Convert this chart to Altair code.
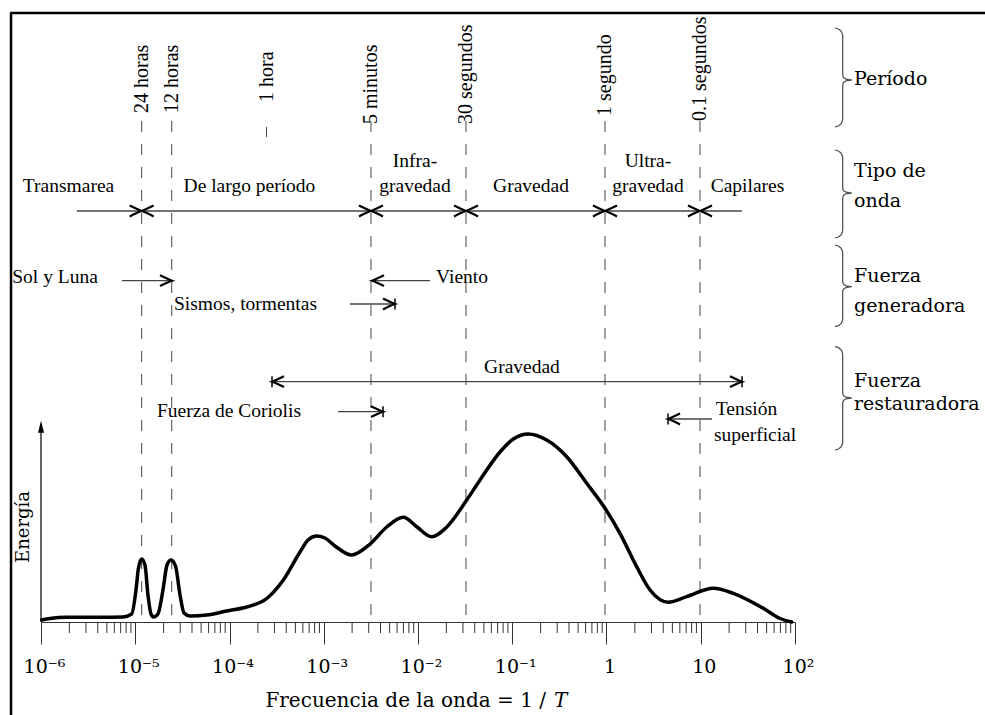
import altair as alt
import pandas as pd

# ---------------- data (x as log10 of frequency, y in chart "level" units) ----------------
# energy spectrum
curve_exp = [-5.993, -5.905, -5.727, -5.374, -5.13, -5.038, -4.992, -4.966, -4.932, -4.897,
             -4.865, -4.833, -4.806, -4.759, -4.706, -4.663, -4.621, -4.573, -4.525, -4.483,
             -4.419, -4.242, -4.030, -3.818, -3.605, -3.429, -3.252, -3.167, -3.075, -2.987,
             -2.881, -2.703, -2.509, -2.332, -2.156, -2.014, -1.855, -1.695, -1.483, -1.342,
             -1.130, -0.989, -0.830, -0.635, -0.422, -0.210, -0.016, 0.143, 0.320, 0.462,
             0.656, 0.851, 1.133, 1.345, 1.664, 1.841, 1.965]
curve_energy = [1.0, 1.75, 2.35, 2.35, 2.5, 4, 16, 27, 31.5, 28.5,
                13.5, 4, 2.5, 4, 16, 28.5, 31, 28, 13.5, 4.5,
                3, 3.5, 5.5, 7.5, 11.75, 21, 35, 41, 43, 42,
                38, 33.5, 39, 47.5, 52.35, 47.65, 42.65, 47.5, 61, 71,
                85, 91.5, 94, 91, 82.65, 69.35, 56.85, 44.35, 27.65, 16,
                9.85, 12.65, 16.85, 14.35, 6.85, 1.75, 0]

# x axis
tick_exps = [-6, -5, -4, -3, -2, -1, 0, 1, 2]
tick_labels = ["10⁻⁶", "10⁻⁵", "10⁻⁴", "10⁻³", "10⁻²", "10⁻¹", "1", "10", "10²"]
minor_mult = [2, 3, 4, 5, 6, 7, 8, 9]
minor_decades = [-6, -5, -4, -3, -2, -1, 0, 1]

# period markers
period_labels = ["24 horas", "12 horas", "1 hora", "5 minutos", "30 segundos", "1 segundo", "0.1 segundos"]
period_exp = [-4.932, -4.613, -3.607, -2.499, -1.491, -0.016, 0.992]
period_level = [254.5, 254.5, 260, 249, 249, 253, 250.5]
dashed_exp = [-4.932, -4.613, -2.499, -1.491, -0.016, 0.992]
dashed_top = 250.5
hora_dash = [247.5, 242.5]

# wave type boundaries
wave_line_exp = [-5.618, 1.438]
wave_line_level = 205.5
wave_bounds = [-4.932, -2.499, -1.491, -0.016, 0.992]

# inner labels
inner_labels = ["Transmarea", "De largo período", "Infra-", "gravedad", "Gravedad", "Ultra-",
                "gravedad", "Capilares", "Sol y Luna", "Viento", "Sismos, tormentas", "Gravedad",
                "Fuerza de Coriolis", "Tensión", "superficial"]
inner_exp = [-5.708, -3.788, -2.032, -2.032, -0.801, 0.44, 0.44, 1.496, -5.851, -1.533,
             -3.830, -0.897, -4.005, 1.485, 1.576]
inner_level = [215, 215, 227.5, 215, 215, 227.5, 215, 215, 169.5, 169.5, 156, 124.5, 102.5, 103.5, 90.5]

# arrows: start, end (log10 f), level, heads at start/end, bars at start/end
arrow_start = [-5.141, -1.873, -2.722, -3.549, -2.849, 1.119]
arrow_end = [-4.610, -2.488, -2.244, 1.438, -2.371, 0.653]
arrow_level = [170.65, 170.65, 159, 120.15, 105.15, 101.5]
arrow_head_start = [False, False, False, True, False, False]
arrow_bar_start = [False, False, False, True, False, False]
arrow_bar_end = [False, False, True, True, True, True]

# right-hand category labels and braces
right_labels = ["Período", "Tipo de", "onda", "Fuerza", "generadora", "Fuerza", "restauradora"]
right_level = [268.5, 222.5, 207.5, 170.15, 155.15, 117.65, 106]
right_exp = 2.626
brace_exp = 2.424
brace_top = [297, 236, 188.5, 137.65]
brace_mid = [271, 214.5, 167.65, 112]
brace_bot = [247.5, 192, 147.65, 86]

# ---------------- helpers ----------------
PX = 94.25  # pixels per decade (used only for brace glyph shape)
xscale = alt.Scale(type="log", domain=[1e-6, 1e2], nice=False)
yscale = alt.Scale(domain=[0, 305], nice=False, zero=False)

label_expr = ""
for e, l in zip(tick_exps, tick_labels):
    label_expr += f"round(log(datum.value)/LN10) == {e} ? '{l}' : "
label_expr += "''"

xaxis = alt.Axis(values=[10.0 ** e for e in tick_exps], labelExpr=label_expr, tickSize=22,
                 tickColor="#333", tickWidth=1, domainColor="#333", domainWidth=1,
                 labelFont="DejaVu Serif", labelFontSize=19, labelColor="black",
                 labelPadding=28, labelBaseline="alphabetic", labelFlush=False,
                 labelOverlap=False, labelBound=False, labelOffset=3, grid=False,
                 title=None, labelAngle=0)


def X(f):
    return alt.X(f, type="quantitative", scale=xscale, axis=xaxis)


def Y(f):
    return alt.Y(f, type="quantitative", scale=yscale, axis=None)


def F(e):
    return 10.0 ** e


layers = []

# frame
frame = pd.DataFrame({"x": [F(-6.33), F(-6.318)], "x2": [F(4.2), F(-6.318)],
                      "y": [304.5, 304.5], "y2": [304.5, -50]})
layers.append(alt.Chart(frame).mark_rule(color="black", strokeWidth=2.5).encode(
    x=X("x"), x2="x2", y=Y("y"), y2="y2"))

# minor ticks
mt = pd.DataFrame({"x": [m * 10.0 ** d for d in minor_decades for m in minor_mult]})
mt["y"] = 0
mt["y2"] = -5.5
layers.append(alt.Chart(mt).mark_rule(color="#333", strokeWidth=1).encode(
    x=X("x"), y=Y("y"), y2="y2"))

# dashed period lines
dl = pd.DataFrame({"x": [F(e) for e in dashed_exp], "y": dashed_top, "y2": 0})
layers.append(alt.Chart(dl).mark_rule(color="#444", strokeWidth=1, strokeDash=[11, 12]).encode(
    x=X("x"), y=Y("y"), y2="y2"))
hd = pd.DataFrame({"x": [F(period_exp[2])], "y": [hora_dash[0]], "y2": [hora_dash[1]]})
layers.append(alt.Chart(hd).mark_rule(color="#444", strokeWidth=1).encode(
    x=X("x"), y=Y("y"), y2="y2"))

# period labels (rotated)
pl = pd.DataFrame({"x": [F(e) for e in period_exp], "y": period_level, "t": period_labels})
layers.append(alt.Chart(pl).mark_text(font="Liberation Serif", fontSize=20, angle=270,
                                      align="left", baseline="middle", color="black").encode(
    x=X("x"), y=Y("y"), text="t:N"))

# arrow lines
lines = pd.DataFrame({"x": [F(wave_line_exp[0])] + [F(e) for e in arrow_start],
                      "x2": [F(wave_line_exp[1])] + [F(e) for e in arrow_end],
                      "y": [wave_line_level] + arrow_level})
layers.append(alt.Chart(lines).mark_rule(color="#444", strokeWidth=1.3).encode(
    x=X("x"), x2="x2", y=Y("y")))

# arrowheads
right_x, right_y, left_x, left_y = [], [], [], []
for b in wave_bounds:
    right_x.append(F(b)); right_y.append(wave_line_level)
    left_x.append(F(b)); left_y.append(wave_line_level)
for s, e, lv, hs in zip(arrow_start, arrow_end, arrow_level, arrow_head_start):
    if e > s:
        right_x.append(F(e)); right_y.append(lv)
        if hs:
            left_x.append(F(s)); left_y.append(lv)
    else:
        left_x.append(F(e)); left_y.append(lv)
        if hs:
            right_x.append(F(s)); right_y.append(lv)
head_r = "M -1 -0.45 Q -0.35 -0.12 0 0 Q -0.35 0.12 -1 0.45"
head_l = "M 1 -0.45 Q 0.35 -0.12 0 0 Q 0.35 0.12 1 0.45"
layers.append(alt.Chart(pd.DataFrame({"x": right_x, "y": right_y})).mark_point(
    shape=head_r, size=576, filled=False, color="black", strokeWidth=2.2, opacity=1).encode(
    x=X("x"), y=Y("y")))
layers.append(alt.Chart(pd.DataFrame({"x": left_x, "y": left_y})).mark_point(
    shape=head_l, size=576, filled=False, color="black", strokeWidth=2.2, opacity=1).encode(
    x=X("x"), y=Y("y")))

# end bars
bx, by = [], []
for s, e, lv, bs, be in zip(arrow_start, arrow_end, arrow_level, arrow_bar_start, arrow_bar_end):
    if bs:
        bx.append(F(s)); by.append(lv)
    if be:
        bx.append(F(e)); by.append(lv)
bars = pd.DataFrame({"x": bx, "y": [v + 2.75 for v in by], "y2": [v - 2.75 for v in by]})
layers.append(alt.Chart(bars).mark_rule(color="black", strokeWidth=1.5).encode(
    x=X("x"), y=Y("y"), y2="y2"))

# inner labels
il = pd.DataFrame({"x": [F(e) for e in inner_exp], "y": inner_level, "t": inner_labels})
layers.append(alt.Chart(il).mark_text(font="Liberation Serif", fontSize=19.5, align="center",
                                      baseline="alphabetic", color="black").encode(
    x=X("x"), y=Y("y"), text="t:N"))

# right labels
rl = pd.DataFrame({"x": F(right_exp), "y": right_level, "t": right_labels})
layers.append(alt.Chart(rl).mark_text(font="DejaVu Serif", fontSize=19, align="left",
                                      baseline="alphabetic", color="black").encode(
    x=X("x"), y=Y("y"), text="t:N"))

# braces (glyph shape offsets in px)
shape_top = [(0, 0), (3.5, 1), (6, 3), (7.3, 5.5), (7.7, 8)]
shape_mid = [(7.7, -5), (8.5, -2.5), (11, -0.8), (16.7, 0)]
rows = []
for k, (t, m, b) in enumerate(zip(brace_top, brace_mid, brace_bot)):
    pts = []
    for dx, dy in shape_top:
        pts.append((dx, t - dy / 2))
    for dx, dy in shape_mid:
        pts.append((dx, m - dy / 2))
    for dx, dy in reversed(shape_mid[:-1]):
        pts.append((dx, m + dy / 2))
    for dx, dy in reversed(shape_top):
        pts.append((dx, b + dy / 2))
    for i, (dx, lv) in enumerate(pts):
        rows.append({"b": k, "i": i, "x": F(brace_exp + dx / PX), "y": lv})
br = pd.DataFrame(rows)
layers.append(alt.Chart(br).mark_line(color="#555", strokeWidth=1.3).encode(
    x=X("x"), y=Y("y"), detail="b:N", order="i:Q"))

# y arrow
ya = pd.DataFrame({"x": [F(-6)], "y": [0], "y2": [97.5]})
layers.append(alt.Chart(ya).mark_rule(color="black", strokeWidth=1.2).encode(
    x=X("x"), y=Y("y"), y2="y2"))
layers.append(alt.Chart(pd.DataFrame({"x": [F(-6)], "y": [97.65]})).mark_point(
    shape="M 0 -1 L 0.5 1 L -0.5 1 Z", size=144, filled=True, color="black", opacity=1).encode(
    x=X("x"), y=Y("y")))

# y label
layers.append(alt.Chart(pd.DataFrame({"x": [F(-6.18)], "y": [47.5], "t": ["Energía"]})).mark_text(
    font="DejaVu Serif", fontSize=18, angle=270, align="center", baseline="middle",
    color="black").encode(x=X("x"), y=Y("y"), text="t:N"))

# x title
layers.append(alt.Chart(pd.DataFrame({"x": [F(-0.642)], "y": [-42.5],
                                      "t": ["Frecuencia de la onda = 1 /"]})).mark_text(
    font="DejaVu Serif", fontSize=20, align="right", baseline="alphabetic",
    color="black").encode(x=X("x"), y=Y("y"), text="t:N"))
layers.append(alt.Chart(pd.DataFrame({"x": [F(-0.557)], "y": [-42.5], "t": ["T"]})).mark_text(
    font="DejaVu Serif", fontSize=20, fontStyle="italic", align="left", baseline="alphabetic",
    color="black").encode(x=X("x"), y=Y("y"), text="t:N"))

# energy curve
cv = pd.DataFrame({"x": [F(e) for e in curve_exp], "y": curve_energy})
layers.append(alt.Chart(cv).mark_line(color="black", strokeWidth=3.5, interpolate="monotone",
                                      strokeJoin="round", strokeCap="round").encode(
    x=X("x"), y=Y("y")))

chart = alt.layer(*layers).properties(
    width=754, height=610,
    padding={"left": 41, "top": 12, "right": 190, "bottom": 93},
    autosize=alt.AutoSizeParams(type="none"),
    background="white",
).configure_view(strokeWidth=0)

chart.save("out.html", embed_options={"renderer": "svg", "actions": False})
